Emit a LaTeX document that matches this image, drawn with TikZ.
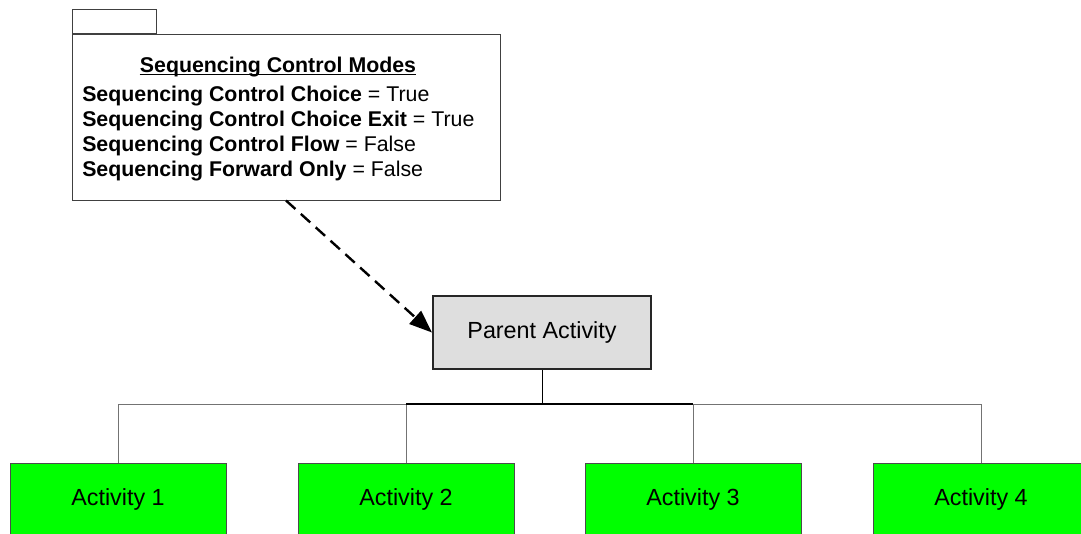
\documentclass[tikz,border=0pt]{standalone}
\usepackage{fontspec}
\setmainfont{Liberation Sans}
\usetikzlibrary{
    arrows.meta,
    positioning,
    calc
}
\tikzset{
    notebox/.style={draw=black!75, line width=0.75pt, fill=white, inner sep=0pt,
        minimum width=321pt, minimum height=124.5pt},
    tabbox/.style={draw=black!75, line width=0.75pt, fill=white, inner sep=0pt,
        minimum width=63pt, minimum height=18pt},
    notetext/.style={inner sep=0pt, align=left, font=\fontsize{16}{18.75}\selectfont},
    parentbox/.style={draw=black!85, line width=1.6pt, fill=black!13, inner sep=0pt,
        minimum width=163.5pt, minimum height=54.75pt, font=\fontsize{17.5}{21}\selectfont},
    childbox/.style={draw=black!70, line width=0.75pt, fill={rgb,255:red,0;green,255;blue,0}, inner sep=0pt,
        minimum width=162pt, minimum height=54pt, font=\fontsize{17.5}{21}\selectfont},
    treeline/.style={draw=black!55, line width=0.75pt},
    trunkline/.style={draw=black, line width=0.75pt},
    busline/.style={draw=black, line width=1.4pt},
    dependency/.style={dashed, dash pattern=on 9.5pt off 5.5pt, line width=1.8pt,
        -{Triangle[length=17pt,width=13pt]}}
}
\begin{document}
\begin{tikzpicture}[x=0.75pt, y=-0.75pt]
    \useasboundingbox (0,0) rectangle (1081,533);

    % note with the sequencing modes
    \node[notebox] (note) at (286,117) {};
    \node[tabbox, anchor=south west] (tab) at (note.north west) {};
    \node[notetext, anchor=base] (title) at (278,72) {\textbf{Sequencing Control Modes}};
    \draw[line width=0.9pt] ([yshift=-1.6pt]title.base west) -- ([yshift=-1.6pt]title.base east);
    \node[notetext, anchor=west] (modes) at (82,134) {%
        \textbf{Sequencing Control Choice} = True\\
        \textbf{Sequencing Control Choice Exit} = True\\
        \textbf{Sequencing Control Flow} = False\\
        \textbf{Sequencing Forward Only} = False};

    % activity tree
    \node[parentbox] (parent) at (542,332.5) {Parent Activity};
    \coordinate (bus) at (542,404);
    \foreach \i/\x in {1/118,2/406,3/693,4/981} {
        \node[childbox] (act\i) at (\x,499) {Activity \i};
        \draw[treeline] (parent.south) -- (bus) -| (act\i.north);
    }
    \draw[trunkline] (parent.south) -- (bus);
    \draw[busline] (bus -| act2.north) -- (bus -| act3.north);

    \draw[dependency] (note.south) -- (parent.west);
\end{tikzpicture}
\end{document}
